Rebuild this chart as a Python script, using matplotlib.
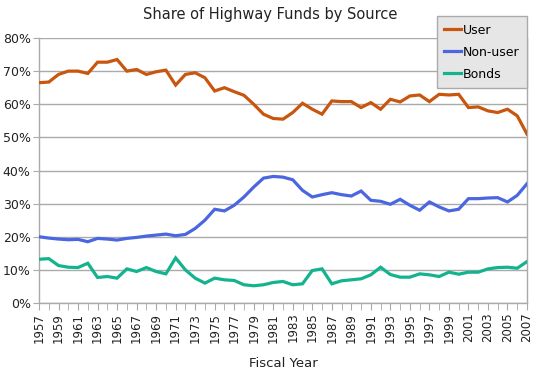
import numpy as np
import matplotlib
matplotlib.use('Agg')
import matplotlib.pyplot as plt
from matplotlib.ticker import FuncFormatter, MultipleLocator

years = list(range(1957, 2008))

user = [66.5, 66.7, 69.0, 70.0, 70.0, 69.3, 72.7, 72.7, 73.5, 70.0,
        70.5, 69.0, 69.8, 70.3, 65.8, 69.0, 69.5, 68.0, 64.0, 65.0,
        63.8, 62.7, 60.0, 57.0, 55.7, 55.5, 57.5, 60.3, 58.5, 57.0,
        61.0, 60.8, 60.8, 59.0, 60.5, 58.5, 61.5, 60.7, 62.5, 62.8,
        60.8, 63.0, 62.8, 63.0, 59.0, 59.2, 58.0, 57.5, 58.5, 56.5,
        51.0]

non_user = [20.0, 19.6, 19.3, 19.1, 19.2, 18.5, 19.5, 19.3, 19.0, 19.5,
            19.8, 20.2, 20.5, 20.8, 20.3, 20.7, 22.5, 25.0, 28.3, 27.8,
            29.5, 32.0, 35.0, 37.7, 38.2, 38.0, 37.2, 34.0, 32.0, 32.7,
            33.3, 32.7, 32.3, 33.8, 31.0, 30.7, 29.8, 31.3, 29.5, 28.0,
            30.5, 29.0, 27.8, 28.3, 31.5, 31.5, 31.7, 31.8, 30.5, 32.5,
            36.0]

bonds = [13.2, 13.4, 11.3, 10.8, 10.7, 12.0, 7.7, 8.0, 7.5, 10.3,
         9.5, 10.7, 9.5, 8.8, 13.6, 10.0, 7.5, 6.0, 7.5, 7.0,
         6.8, 5.5, 5.2, 5.5, 6.2, 6.5, 5.5, 5.8, 9.8, 10.3,
         5.8, 6.7, 7.0, 7.3, 8.5, 10.8, 8.6, 7.8, 7.8, 8.8,
         8.5, 8.0, 9.3, 8.7, 9.3, 9.3, 10.3, 10.7, 10.8, 10.5,
         12.5]

series = [('User', user, '#C8560E'),
          ('Non-user', non_user, '#4A66E0'),
          ('Bonds', bonds, '#14B38F')]

plt.rcParams['font.family'] = ['DejaVu Sans']

fig = plt.figure(figsize=(5.45, 3.7), dpi=100)
ax = fig.add_axes([39/545, 1 - 303/370, (527 - 39)/545, (303 - 38)/370])

for name, vals, col in series:
    ax.plot(years, np.array(vals) / 100, color=col, lw=2.3, label=name,
            solid_joinstyle='miter', zorder=3)

ax.set_xlim(1957, 2007)
ax.set_ylim(0, 0.8)
ax.yaxis.set_major_locator(MultipleLocator(0.1))
ax.yaxis.set_major_formatter(FuncFormatter(lambda v, p: '%d%%' % round(v * 100)))
ax.set_xticks(years[::2])
ax.set_xticks(years, minor=True)
ax.set_xticklabels([str(y) for y in years[::2]], rotation=90)
ax.grid(axis='y', color='#AAAAAA', lw=1)
ax.set_axisbelow(True)

ax.spines['top'].set_visible(False)
for s in ['left', 'right', 'bottom']:
    ax.spines[s].set_color('#AAAAAA')
    ax.spines[s].set_linewidth(1)

ax.tick_params(axis='x', which='both', length=5, color='#AAAAAA',
               labelsize=8.5, labelcolor='#222222', pad=2)
ax.tick_params(axis='y', length=4, color='#AAAAAA', labelsize=9,
               labelcolor='#222222', pad=2)

ax.set_xlabel('Fiscal Year', fontsize=9.5, color='#222222', labelpad=10)
fig.text(270/545, 1 - 15/370, 'Share of Highway Funds by Source',
         ha='center', va='center', fontsize=10.5, color='#222222')

leg = fig.legend(loc='upper right', bbox_to_anchor=(527/545, 1 - 16/370),
                 fontsize=9, frameon=True, fancybox=False, handlelength=1.35,
                 handletextpad=0.15, borderpad=0.6, labelspacing=0.72,
                 borderaxespad=0)
leg.get_frame().set_facecolor('#E6E6E6')
leg.get_frame().set_edgecolor('#AAAAAA')
leg.get_frame().set_alpha(1)

fig.savefig('out.png', dpi=100)
